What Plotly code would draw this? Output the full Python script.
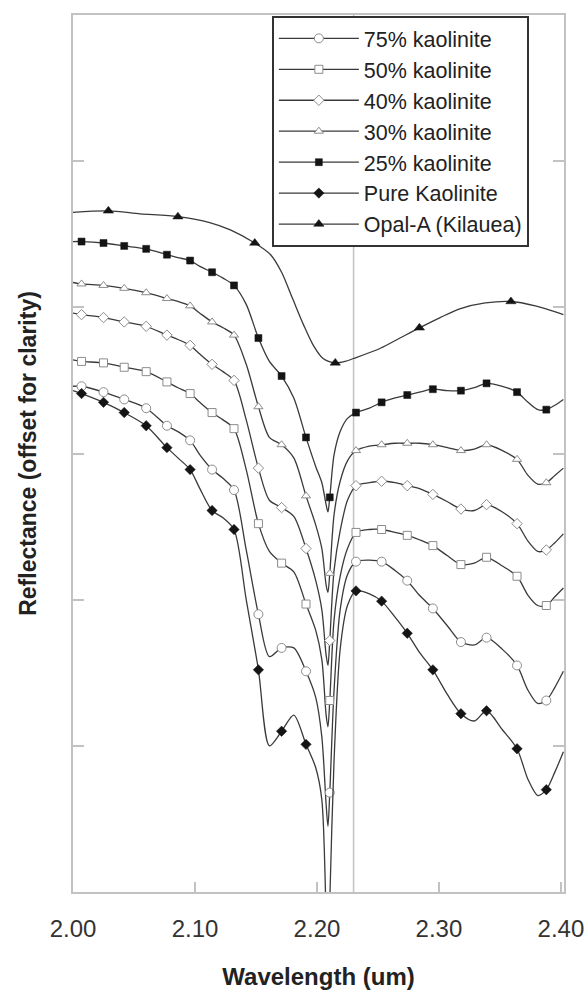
import plotly.graph_objects as go

# ---------------- data ----------------
wavelength = [2.000, 2.007, 2.025, 2.042, 2.060, 2.077, 2.086, 2.096, 2.104, 2.114,
              2.123, 2.132, 2.142, 2.152, 2.161, 2.171, 2.181, 2.191, 2.199, 2.204,
              2.2075, 2.209, 2.2105, 2.214, 2.219, 2.225, 2.232, 2.243, 2.253, 2.264,
              2.274, 2.284, 2.295, 2.307, 2.318, 2.329, 2.339, 2.352, 2.364, 2.373,
              2.381, 2.388, 2.395, 2.402]
marker_idx = [1, 2, 3, 4, 5, 7, 9, 11, 13, 15, 17, 22, 26, 28, 30, 32, 34, 36, 38, 41]

kaolinite_75 = [0.346, 0.346, 0.342, 0.337, 0.331, 0.319, 0.315, 0.309, 0.299, 0.289,
                0.283, 0.275, 0.234, 0.190, 0.161, 0.167, 0.167, 0.151, 0.133, 0.106,
                0.060, 0.045, 0.068, 0.138, 0.193, 0.217, 0.226, 0.227, 0.226, 0.220,
                0.213, 0.203, 0.194, 0.182, 0.171, 0.169, 0.174, 0.166, 0.155, 0.138,
                0.129, 0.131, 0.140, 0.151]
kaolinite_50 = [0.364, 0.363, 0.362, 0.359, 0.356, 0.349, 0.345, 0.341, 0.335, 0.328,
                0.323, 0.317, 0.289, 0.252, 0.233, 0.225, 0.219, 0.197, 0.179, 0.159,
                0.121, 0.113, 0.131, 0.186, 0.216, 0.235, 0.246, 0.248, 0.248, 0.246,
                0.244, 0.241, 0.237, 0.230, 0.224, 0.225, 0.229, 0.223, 0.216, 0.203,
                0.196, 0.196, 0.202, 0.208]
kaolinite_40 = [0.396, 0.395, 0.393, 0.390, 0.387, 0.381, 0.378, 0.374, 0.368, 0.361,
                0.356, 0.350, 0.323, 0.290, 0.268, 0.263, 0.257, 0.235, 0.213, 0.193,
                0.162, 0.155, 0.172, 0.220, 0.247, 0.268, 0.278, 0.280, 0.281, 0.280,
                0.278, 0.276, 0.272, 0.267, 0.262, 0.261, 0.265, 0.260, 0.252, 0.240,
                0.233, 0.234, 0.239, 0.245]
kaolinite_30 = [0.417, 0.416, 0.415, 0.413, 0.410, 0.406, 0.404, 0.401, 0.396, 0.390,
                0.386, 0.381, 0.361, 0.332, 0.311, 0.306, 0.297, 0.271, 0.251, 0.235,
                0.210, 0.205, 0.218, 0.258, 0.281, 0.295, 0.302, 0.305, 0.306, 0.307,
                0.307, 0.307, 0.306, 0.304, 0.302, 0.303, 0.306, 0.302, 0.296, 0.285,
                0.279, 0.280, 0.285, 0.290]
kaolinite_25 = [0.445, 0.445, 0.444, 0.442, 0.440, 0.436, 0.434, 0.432, 0.428, 0.424,
                0.420, 0.415, 0.402, 0.379, 0.363, 0.353, 0.338, 0.311, 0.291, 0.280,
                0.265, 0.260, 0.270, 0.299, 0.315, 0.324, 0.328, 0.331, 0.335, 0.338,
                0.340, 0.342, 0.344, 0.343, 0.343, 0.345, 0.348, 0.346, 0.342, 0.335,
                0.330, 0.330, 0.333, 0.337]
pure_kaolinite = [0.343, 0.341, 0.335, 0.328, 0.319, 0.304, 0.297, 0.289, 0.276, 0.261,
                  0.256, 0.248, 0.200, 0.152, 0.100, 0.110, 0.121, 0.101, 0.085, 0.063,
                  -0.016, -0.050, -0.006, 0.090, 0.166, 0.196, 0.206, 0.204, 0.199, 0.188,
                  0.177, 0.164, 0.152, 0.135, 0.122, 0.117, 0.124, 0.111, 0.098, 0.077,
                  0.066, 0.070, 0.082, 0.096]

opal_wavelength = [2.000, 2.029, 2.055, 2.086, 2.112, 2.129, 2.149, 2.162, 2.171, 2.180,
                   2.189, 2.197, 2.205, 2.215, 2.223, 2.230, 2.252, 2.268, 2.284, 2.301,
                   2.317, 2.338, 2.359, 2.379, 2.402]
opal_a = [0.465, 0.466, 0.464, 0.462, 0.458, 0.453, 0.444, 0.436, 0.424, 0.406,
          0.388, 0.374, 0.365, 0.362, 0.363, 0.365, 0.372, 0.379, 0.386, 0.393,
          0.399, 0.403, 0.404, 0.401, 0.395]
opal_marker_idx = [1, 3, 6, 13, 18, 22]

x_ticks = [2.0, 2.1, 2.2, 2.3, 2.4]
y_ticks = [0.1, 0.2, 0.3, 0.4, 0.5]
ref_wavelength = 2.23

# ---------------- styling ----------------
FONT = "Arial, 'Liberation Sans', Helvetica, sans-serif"
LINE_COLOR = "#3a3a3a"
AXIS_COLOR = "#c2c2c2"
OPEN_EDGE = "#8c8c8c"
FILLED = "#141414"

series = [
    ("75% kaolinite", wavelength, kaolinite_75, marker_idx,
     dict(symbol="circle", size=9, color="white", line=dict(color=OPEN_EDGE, width=1))),
    ("50% kaolinite", wavelength, kaolinite_50, marker_idx,
     dict(symbol="square", size=8, color="white", line=dict(color=OPEN_EDGE, width=1))),
    ("40% kaolinite", wavelength, kaolinite_40, marker_idx,
     dict(symbol="diamond", size=8, color="white", line=dict(color=OPEN_EDGE, width=1))),
    ("30% kaolinite", wavelength, kaolinite_30, marker_idx,
     dict(symbol="triangle-up", size=8, color="white", line=dict(color=OPEN_EDGE, width=1))),
    ("25% kaolinite", wavelength, kaolinite_25, marker_idx,
     dict(symbol="square", size=7, color=FILLED, line=dict(color=FILLED, width=0.5))),
    ("Pure Kaolinite", wavelength, pure_kaolinite, marker_idx,
     dict(symbol="diamond", size=8, color=FILLED, line=dict(color=FILLED, width=0.5))),
    ("Opal-A (Kilauea)", opal_wavelength, opal_a, opal_marker_idx,
     dict(symbol="triangle-up", size=9, color=FILLED, line=dict(color=FILLED, width=0.5))),
]

fig = go.Figure()
for i, (name, xs, ys, midx, mk) in enumerate(series):
    grp = f"g{i}"
    fig.add_trace(go.Scatter(x=xs, y=ys, mode="lines", name=name, legendgroup=grp,
                             showlegend=False, hoverinfo="skip",
                             line=dict(color=LINE_COLOR, width=1.3, shape="spline", smoothing=0.8)))
    fig.add_trace(go.Scatter(x=[xs[k] for k in midx], y=[ys[k] for k in midx], mode="markers",
                             name=name, legendgroup=grp, showlegend=False, marker=mk,
                             cliponaxis=True))
    fig.add_trace(go.Scatter(x=[None], y=[None], mode="lines+markers", name=name,
                             legendgroup=grp, showlegend=True, marker=mk,
                             line=dict(color=LINE_COLOR, width=1.3)))

fig.add_shape(type="line", xref="x", yref="paper", x0=ref_wavelength, x1=ref_wavelength,
              y0=0, y1=1, line=dict(color=AXIS_COLOR, width=1.5), layer="below")

fig.update_layout(
    width=586, height=991,
    margin=dict(l=73, r=22, t=15, b=99, autoexpand=False),
    paper_bgcolor="white", plot_bgcolor="white",
    font=dict(family=FONT, color="#333333"),
    showlegend=True,
    legend=dict(x=0.405, y=0.999, xanchor="left", yanchor="top",
                bgcolor="white", bordercolor="#333333", borderwidth=2,
                font=dict(family=FONT, size=21.5, color="#222222"),
                traceorder="grouped", tracegroupgap=0, itemwidth=80),
    xaxis=dict(range=[2.0, 2.4025], tickvals=x_ticks, tickformat=".2f", automargin=False,
               ticks="inside", ticklen=10, tickwidth=1.5, tickcolor=AXIS_COLOR,
               showline=True, linecolor=AXIS_COLOR, linewidth=1.5, mirror=True,
               showgrid=False, zeroline=False, ticklabelstandoff=14,
               tickfont=dict(family=FONT, size=24, color="#333333"),
               title=dict(text="Wavelength (um)", standoff=28,
                          font=dict(family=FONT, size=24, color="#222222", weight="bold"))),
    yaxis=dict(range=[0, 0.6], tickvals=y_ticks, showticklabels=False, automargin=False,
               ticks="inside", ticklen=11, tickwidth=1.5, tickcolor=AXIS_COLOR,
               showline=True, linecolor=AXIS_COLOR, linewidth=1.5, mirror="ticks",
               showgrid=False, zeroline=False,
               title=dict(text="Reflectance (offset for clarity)", standoff=28,
                          font=dict(family=FONT, size=23, color="#222222", weight="bold"))),
)

# remove the browser's default 8 px page margin so the figure fills the window exactly
fig.write_html("out.html", config={"displayModeBar": False},
               post_script="document.body.style.margin='0px';")
